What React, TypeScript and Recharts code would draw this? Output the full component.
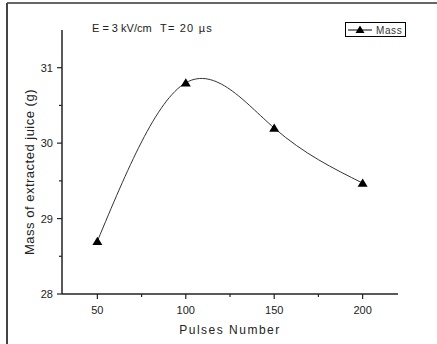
import React from 'react';
import { LineChart, Line, XAxis, YAxis } from 'recharts';

const pulses = [50, 100, 150, 200];
const mass = [28.7, 30.8, 30.2, 29.47];
const xTicks = [50, 75, 100, 125, 150, 175, 200];
const xLabels = [50, 100, 150, 200];
const yTicks = [28, 28.5, 29, 29.5, 30, 30.5, 31];
const yLabels = [28, 29, 30, 31];

const data = pulses.map((p, i) => ({ x: p, mass: mass[i] }));

const FONT = '"Liberation Sans", Arial, sans-serif';

function triangle(cx: number, cy: number, s: number) {
  return `M${cx},${cy - s * 0.9} L${cx + s},${cy + s * 0.75} L${cx - s},${cy + s * 0.75} Z`;
}

const XTick = (props: any) => {
  const { x, y, payload } = props;
  const major = xLabels.includes(payload.value);
  return (
    <g>
      <line x1={x} x2={x} y1={y} y2={y + (major ? 5 : 3)} stroke="#222" strokeWidth={1.2} />
      {major && (
        <text x={x} y={y + 20} textAnchor="middle" fontSize={11} fill="#222" fontFamily={FONT}>
          {payload.value}
        </text>
      )}
    </g>
  );
};

const YTick = (props: any) => {
  const { x, y, payload } = props;
  const major = yLabels.includes(payload.value);
  return (
    <g>
      <line x1={x - (major ? 5 : 3)} x2={x} y1={y} y2={y} stroke="#222" strokeWidth={1.2} />
      {major && (
        <text x={x - 9} y={y + 4} textAnchor="end" fontSize={11} fill="#222" fontFamily={FONT}>
          {payload.value}
        </text>
      )}
    </g>
  );
};

const TriDot = (props: any) => {
  const { cx, cy, index } = props;
  return <path key={`dot-${index}`} d={triangle(cx, cy, 5)} fill="#000" />;
};

export default function App() {
  return (
    <div style={{ position: 'absolute', left: 0, top: 0, width: 437, height: 344, background: '#fff' }}>
      <LineChart width={437} height={344} data={data} margin={{ top: 30, right: 39, left: 32, bottom: 20 }}>
        <XAxis
          dataKey="x"
          type="number"
          domain={[30, 220]}
          ticks={xTicks}
          allowDataOverflow
          height={30}
          tickSize={0}
          tickMargin={0}
          tickLine={false}
          tick={<XTick />}
          axisLine={{ stroke: '#222', strokeWidth: 1.5 }}
        />
        <YAxis
          type="number"
          domain={[28, 31.5]}
          ticks={yTicks}
          allowDataOverflow
          width={30}
          tickSize={0}
          tickMargin={0}
          tickLine={false}
          tick={<YTick />}
          axisLine={{ stroke: '#222', strokeWidth: 1.5 }}
        />
        <Line
          type="natural"
          dataKey="mass"
          name="Mass"
          stroke="#333"
          strokeWidth={1}
          dot={<TriDot />}
          activeDot={false}
          isAnimationActive={false}
        />
      </LineChart>
      <svg
        width={437}
        height={344}
        style={{ position: 'absolute', left: 0, top: 0, pointerEvents: 'none' }}
      >
        <line x1={7} x2={437} y1={3} y2={3} stroke="#666" strokeWidth={2} />
        <line x1={7} x2={7} y1={3} y2={344} stroke="#444" strokeWidth={2} />
        {/* legend */}
        <rect x={345.5} y={22.5} width={60} height={14} fill="#fff" stroke="#000" strokeWidth={1} />
        <line x1={348} x2={372} y1={30} y2={30} stroke="#000" strokeWidth={1} />
        <path d={triangle(360, 29.5, 4.5)} fill="#000" />
        <text x={376} y={33.5} fontSize={10} fill="#333" fontFamily={FONT} letterSpacing={0.6}>
          Mass
        </text>
        <text x={92} y={32} fontSize={11} fill="#222" fontFamily={FONT}>
          E = 3 kV/cm
        </text>
        <text x={160} y={32} fontSize={11} fill="#222" fontFamily={FONT} letterSpacing={1.2}>
          T= 20 µs
        </text>
        <text
          x={230}
          y={334}
          textAnchor="middle"
          fontSize={12}
          fill="#222"
          fontFamily={FONT}
          letterSpacing={1.5}
        >
          Pulses Number
        </text>
        <text
          transform="translate(34,172) rotate(-90)"
          textAnchor="middle"
          fontSize={13}
          fill="#222"
          fontFamily={FONT}
          letterSpacing={0.5}
        >
          Mass of extracted juice (g)
        </text>
      </svg>
    </div>
  );
}
